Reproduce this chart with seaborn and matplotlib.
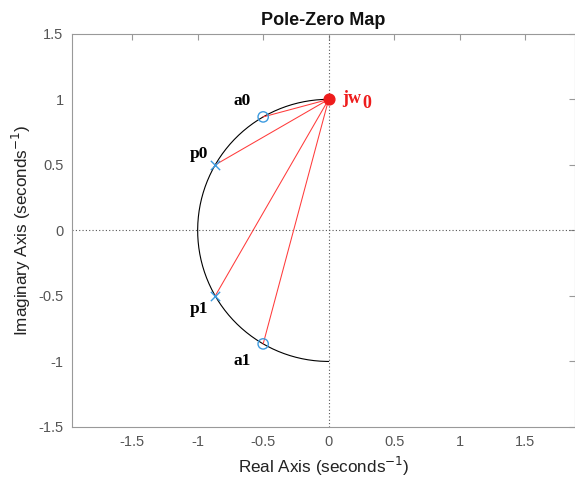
import numpy as np
import pandas as pd
import seaborn as sns
import matplotlib.pyplot as plt

# zeros (o), poles (x) and the reference point jw0
zero_names = ["a0", "a1"]
zero_re = [-0.5, -0.5]
zero_im = [0.866, -0.866]
pole_names = ["p0", "p1"]
pole_re = [-0.866, -0.866]
pole_im = [0.5, -0.5]
w0_re = 0.0
w0_im = 1.0

# label positions (data units)
label_x = {"a0": -0.66, "p0": -0.99, "p1": -0.99, "a1": -0.66}
label_y = {"a0": 0.985, "p0": 0.585, "p1": -0.60, "a1": -0.995}

x_ticks = [-1.5, -1, -0.5, 0, 0.5, 1, 1.5]
y_ticks = [-1.5, -1, -0.5, 0, 0.5, 1, 1.5]

sns.set_style("white")
plt.rcParams["font.family"] = ["Liberation Sans", "DejaVu Sans"]

fig = plt.figure(figsize=(5.75, 4.83), dpi=100)
ax = fig.add_axes([0.125, 0.116, 0.875, 0.814])

# dotted axes lines
ax.axhline(0, color="#555555", lw=0.8, ls=(0, (1, 2)), zorder=1)
ax.axvline(0, color="#555555", lw=0.8, ls=(0, (1, 2)), zorder=1)

# left half of unit circle
theta = np.linspace(np.pi / 2, 3 * np.pi / 2, 200)
arc = pd.DataFrame({"re": np.cos(theta), "im": np.sin(theta)})
sns.lineplot(data=arc, x="re", y="im", sort=False, estimator=None, errorbar=None,
             color="black", lw=0.8, ax=ax, zorder=2)

# red lines from jw0 to each pole/zero
for xr, yi in zip(zero_re + pole_re, zero_im + pole_im):
    seg = pd.DataFrame({"re": [w0_re, xr], "im": [w0_im, yi]})
    sns.lineplot(data=seg, x="re", y="im", sort=False, estimator=None, errorbar=None,
                 color="#ff3b3b", lw=0.75, ax=ax, zorder=3)

zeros = pd.DataFrame({"re": zero_re, "im": zero_im})
poles = pd.DataFrame({"re": pole_re, "im": pole_im})
sns.scatterplot(data=zeros, x="re", y="im", marker="o", s=55, facecolor="none",
                edgecolor="#3d9be0", linewidth=1.0, ax=ax, zorder=4)
sns.scatterplot(data=poles, x="re", y="im", marker="x", s=45, color="#3d9be0",
                linewidth=1.0, ax=ax, zorder=4)
ax.scatter([w0_re], [w0_im], s=60, color="#ee1c1c", zorder=5)

for name in zero_names + pole_names:
    ax.text(label_x[name], label_y[name], name, family="Liberation Serif", weight="bold",
            fontsize=12.5, ha="center", va="center", color="black")
jw = ax.text(0.1, 1.01, "jw", family="Liberation Serif", weight="bold",
             fontsize=13, color="#ee1c1c", ha="left", va="center")
ax.annotate("0", xy=(1.0, 0.5), xycoords=jw, xytext=(1, -4), textcoords="offset points",
            family="Liberation Serif", weight="bold", fontsize=13, color="#ee1c1c",
            ha="left", va="center")

ax.set_xlim(-1.96, 1.88)
ax.set_ylim(-1.5, 1.5)
ax.set_xticks(x_ticks)
ax.set_yticks(y_ticks)
ax.set_xticklabels(["-1.5", "-1", "-0.5", "0", "0.5", "1", "1.5"])
ax.set_yticklabels(["-1.5", "-1", "-0.5", "0", "0.5", "1", "1.5"])
ax.tick_params(direction="in", length=4, color="#999999", labelcolor="#555555",
               labelsize=10.5, top=True, right=True, pad=6)
for sp in ax.spines.values():
    sp.set_color("#999999")
    sp.set_linewidth(0.8)

ax.set_xlabel("Real Axis (seconds$^{-1}$)", fontsize=12.3, color="#222222")
ax.set_ylabel("Imaginary Axis (seconds$^{-1}$)", fontsize=12.3, color="#222222")
ax.set_title("Pole-Zero Map", fontsize=13, weight="bold", color="#111111", pad=6)

fig.savefig("out.png", dpi=100)
